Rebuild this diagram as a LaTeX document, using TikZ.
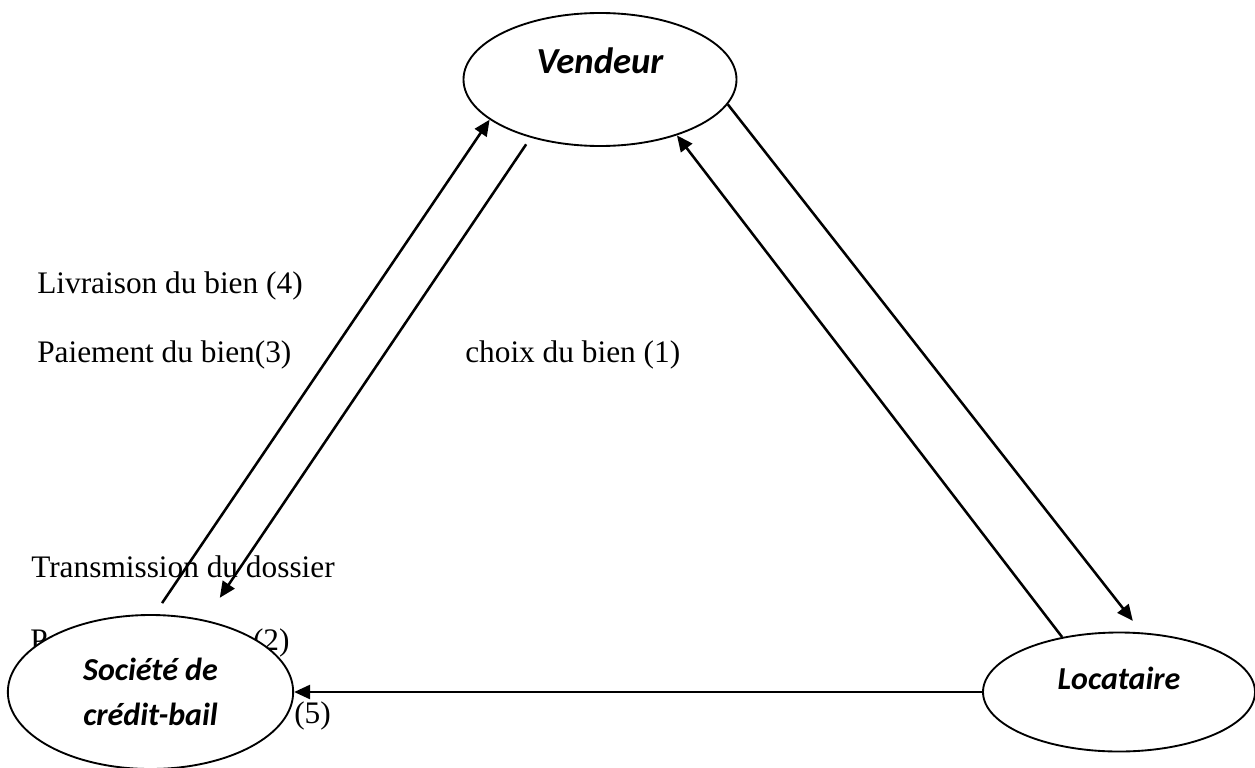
\documentclass[tikz,border=0pt]{standalone}
\usepackage{fontspec}
\setmainfont{Liberation Serif}
\newfontfamily\calibri{Carlito}
\usetikzlibrary{arrows.meta, shapes.geometric}

\begin{document}
\begin{tikzpicture}[x=0.75pt, y=-0.75pt, line width=1.9pt,
        >={Triangle[length=12pt, width=10.5pt]},
        acteur/.style={ellipse, draw, line width=1.4pt, fill=white, inner sep=0pt,
            align=center, font=\calibri\bfseries\itshape\fontsize{#1}{34}\selectfont},
        etiq/.style={anchor=base west, inner sep=0pt,
            font=\fontsize{23.5}{28}\selectfont}]
    \useasboundingbox (0, 0) rectangle (1255, 767);

    % labels first: the filled ellipses go on top of them
    \node[etiq] (livraison) at (36, 293) {Livraison du bien (4)};
    \node[etiq] (paiement) at (36, 362) {Paiement du bien(3)};
    \node[etiq] (choix) at (464, 362) {choix du bien (1)};
    \node[etiq] (transmission) at (30, 577) {Transmission du dossier};
    \node[etiq] (loyer) at (29, 650) {P\hspace{154pt}(2)};
    \node[etiq] (num5) at (293, 723) {(5)};

    \node[acteur=27.5, minimum width=204.75pt, minimum height=99.75pt,
        text depth=28pt] (vendeur) at (600, 79.5) {Vendeur};
    \node[acteur=24, minimum width=204pt, minimum height=89.25pt,
        text depth=20.5pt] (locataire) at (1119, 692) {Locataire};
    \node[acteur=24, minimum width=214pt, minimum height=115.5pt]
        (societe) at (150.5, 692) {Société de\\crédit-bail};

    \draw[->, shorten <=10pt] (societe.87) -- (vendeur.200);
    \draw[->, shorten <=6pt, shorten >=20pt] (vendeur.220) -- (societe.53);
    \draw[->] (locataire.136) -- (vendeur.324);
    \draw[->, shorten >=11pt] (vendeur.349) -- (locataire.69);
    \draw[->] (locataire.west) -- (societe.east);
\end{tikzpicture}
\end{document}
